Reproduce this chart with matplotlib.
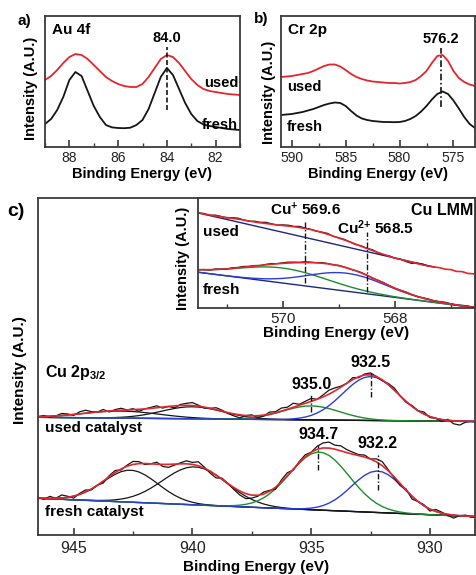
import numpy as np
import matplotlib
matplotlib.use('Agg')
import matplotlib.pyplot as plt
from matplotlib.ticker import MultipleLocator

plt.rcParams['font.family'] = ['Liberation Sans', 'DejaVu Sans']
plt.rcParams['mathtext.default'] = 'regular'

RED = '#e4262c'
BLACK = '#151515'
GREEN = '#1e8c2a'
BLUE = '#2a3ed6'
NAVY = '#1d2680'
SPINE = '#3a3a3a'

# ---------------- data ----------------
# a) Au 4f, binding energy 89 -> 81 eV, step 0.25
au_be = np.linspace(89.0, 81.0, 33)
au_fresh = [23, 28, 37, 50, 67, 75, 71, 56, 41, 30, 22, 19.6, 19, 18.8, 19.3, 22, 27,
            38, 54, 70, 79, 72, 58, 44, 33, 26, 22.5, 21, 20, 19, 18, 17.5, 17]
au_used = [67, 71, 77, 84, 90, 93, 92, 88, 82, 76, 70, 66, 63, 61, 60, 60, 63,
           70, 79, 88, 92, 90, 84, 76, 68, 62, 58, 56, 55, 54, 53, 52.5, 52]

# b) Cr 2p, binding energy 591 -> 573 eV, step 0.5
cr_be = np.linspace(591.0, 573.0, 37)
cr_used = [70, 70.5, 71, 72, 73, 74, 76, 78.5, 81, 82.5, 82.5, 80.5, 77, 73, 70, 68,
           66.5, 65.5, 65, 64.5, 64, 64, 63.5, 64, 65, 67, 71, 76, 84, 91, 92, 86, 76,
           69, 65, 62.5, 61]
cr_fresh = [32, 32.5, 33, 34, 35, 36.5, 38, 40, 42, 43.5, 44.5, 44, 41, 36, 31.5, 28.5,
            27, 26, 25.5, 25, 25, 24.8, 25, 26, 28, 31, 35.5, 41, 47.5, 53, 55.5, 53,
            46.5, 38.5, 30, 23, 19]

# c) Cu 2p3/2, binding energy 946.5 -> 928 eV, step 0.25
cu_be = np.linspace(946.5, 928.0, 75)
# fitted peaks: (centre eV, height, sigma eV)
used_base = (117.7, 113.5)
used_sat = [(943.0, 7, 1.6), (940.0, 12, 1.3)]
used_green = (935.0, 14, 1.2)
used_blue = (932.5, 44, 1.17)
fresh_base = (36.7, 18.3)
fresh_sat = [(942.6, 32, 1.15), (939.9, 38, 1.35)]
fresh_green = (934.65, 58, 1.25)
fresh_blue = (932.2, 41.5, 1.1)
# measured counts minus the fit envelope
used_resid = [0, 1, -1, 0, 2, 1, -1, 2, 3, 1, 0, 2, -1, 1, 2,
              0, 1, -2, 0, 1, 2, -1, 0, -2, 1, 2, 3, 1, -1, 0,
              2, 1, -1, -2, -3, 0, 1, -2, -1, 2, 1, 3, 2, 4, 1,
              2, 3, 0, 2, 4, 3, 1, 0, 2, -1, 1, 2, 0, -1, 1,
              2, 0, -1, 1, 0, 2, -1, 0, -2, 1, -3, -4, -1, 0, -1]
fresh_resid = [1, -1, 2, 0, 3, 1, -2, 1, 2, -1, 0, -2, 1, 2, -1,
               1, 3, 2, -1, 0, 2, -2, -3, -1, 1, 3, 2, 4, 1, -2,
               -3, 1, 0, -2, -4, -5, -3, -1, 2, 1, -2, 2, 3, -1, 1,
               2, 0, 3, 5, 6, 4, 5, 3, 2, 1, 2, 0, 3, 4, 1,
               -1, -2, 1, -3, 0, 1, -2, 2, 1, -1, -3, 0, 1, -1, 0]

# c) inset Cu LMM, 571.5 -> 566.6 eV, step 0.1
lmm_be = np.linspace(571.5, 566.6, 50)
lmm_used = [95.0, 94.0, 93.0, 92.1, 91.3, 90.5, 89.7, 88.9, 88.0, 87.0,
            86.0, 85.2, 84.5, 83.8, 83.1, 82.5, 81.9, 81.3, 80.5, 79.5,
            78.5, 77.1, 75.5, 73.8, 71.9, 70.0, 68.0, 66.0, 63.9, 61.7,
            59.5, 57.5, 55.5, 53.6, 51.8, 50.0, 48.6, 47.2, 45.8, 44.4,
            43.0, 42.0, 41.0, 40.3, 38.8, 38.4, 36.6, 36.4, 34.6, 34.2]
lmm_used_resid = [0, 0.5, -0.5, 0.8, 0.3, -0.4, 0.6, 1.0, 0.2, -0.3,
                  0.8, 0.5, 1.2, 0.4, -0.2, 0.6, 0.9, 0.3, 1.1, 0.5,
                  0.2, -0.3, 0.4, 0.8, -0.2, 0.3, 0.6, 0.1, -0.4, 0.5,
                  0.2, 0.8, -0.3, -0.6, 0.4, -0.2, 0.3, -0.8, -1.2, 0.5,
                  0.9, -0.3, 0.2]
lmm_fresh_base = (35.7, 0.6)
lmm_green = (570.0, 15, 0.8)
lmm_blue = (568.85, 18, 0.7)
lmm_fresh_resid = [0, 0.3, -0.4, 0.5, 0.2, -0.3, 0.6, 0.4, 0.8, 0.3,
                   0.5, -0.2, 0.4, 0.7, 0.2, 0.5, 0.9, 0.6, 0.3, 0.8,
                   0.4, 0.1, 0.6, 0.3, -0.2, 0.4, 0.1, -0.3, 0.2, 0.5,
                   0.3, -0.4, 0.2, 0.5, 0.1, -0.2, 0.3, 0.6, 0.2, -0.1,
                   0.3, 0.5, -0.2, 0.4, 0.7, 0.2, -0.3, 0.4, 0.6, 0.1]


def gauss(e, peak):
    c, h, s = peak
    return h * np.exp(-(e - c) ** 2 / (2 * s ** 2))


def style_axes(ax, major, minor, labelsize, xlabelsize, pad=3.0, labelpad=1.0):
    for sp in ax.spines.values():
        sp.set_color(SPINE)
        sp.set_linewidth(1.3)
    ax.set_yticks([])
    ax.xaxis.set_major_locator(MultipleLocator(major))
    ax.xaxis.set_minor_locator(MultipleLocator(minor))
    ax.tick_params(axis='x', which='major', direction='in', length=5, width=1.2,
                   labelsize=labelsize, pad=pad, colors=SPINE, labelcolor='#222222')
    ax.tick_params(axis='x', which='minor', direction='in', length=3, width=1.0,
                   colors=SPINE)
    ax.set_xlabel('Binding Energy (eV)', fontsize=xlabelsize, fontweight='bold',
                  labelpad=labelpad)


W, H = 476, 575
fig = plt.figure(figsize=(W / 100, H / 100), dpi=100)


def px_axes(left, top, right, bottom):
    return fig.add_axes([left / W, 1 - bottom / H, (right - left) / W, (bottom - top) / H])


# ---------------- a) ----------------
ax = px_axes(45, 16, 240, 147)
ax.plot(au_be, au_used, color=RED, lw=1.3)
ax.plot(au_be, au_fresh, color=BLACK, lw=1.3)
ax.set_xlim(89, 81)
ax.set_ylim(0, 131)
style_axes(ax, 2, 1, 10, 10.5)
ax.set_ylabel('Intensity (A.U.)', fontsize=10.5, fontweight='bold')
ax.yaxis.set_label_coords(-0.038, 0.45)
ax.plot([84.0, 84.0], [37, 100], color=BLACK, lw=1.2, ls=(0, (3, 1.5)))
ax.text(84.0, 0.834, '84.0', transform=ax.get_xaxis_transform(), ha='center',
        va='center', fontsize=10.5, fontweight='bold')
ax.text(0.036, 0.893, 'Au 4f', transform=ax.transAxes, ha='left', va='center',
        fontsize=11, fontweight='bold')
ax.text(0.99, 0.489, 'used', transform=ax.transAxes, ha='right', va='center',
        fontsize=10.5, fontweight='bold')
ax.text(0.99, 0.168, 'fresh', transform=ax.transAxes, ha='right', va='center',
        fontsize=10.5, fontweight='bold')
fig.text(24.5 / W, 1 - 21.5 / H, 'a)', ha='center', va='center', fontsize=11,
         fontweight='bold')

# ---------------- b) ----------------
ax = px_axes(281, 16, 475, 147)
ax.plot(cr_be, cr_used, color=RED, lw=1.3)
ax.plot(cr_be, cr_fresh, color=BLACK, lw=1.3)
ax.set_xlim(591, 573)
ax.set_ylim(0, 131)
style_axes(ax, 5, 2.5, 10, 10.5)
ax.set_ylabel('Intensity (A.U.)', fontsize=10.5, fontweight='bold')
ax.yaxis.set_label_coords(-0.026, 0.42)
ax.plot([576.2, 576.2], [40, 99], color=BLACK, lw=1.2, ls=(0, (4, 1.5, 1, 1.5)))
ax.text(576.2, 0.824, '576.2', transform=ax.get_xaxis_transform(), ha='center',
        va='center', fontsize=10.5, fontweight='bold')
ax.text(0.036, 0.893, 'Cr 2p', transform=ax.transAxes, ha='left', va='center',
        fontsize=11, fontweight='bold')
ax.text(0.031, 0.46, 'used', transform=ax.transAxes, ha='left', va='center',
        fontsize=10.5, fontweight='bold')
ax.text(0.031, 0.155, 'fresh', transform=ax.transAxes, ha='left', va='center',
        fontsize=10.5, fontweight='bold')
fig.text(261.5 / W, 1 - 19 / H, 'b)', ha='center', va='center', fontsize=11,
         fontweight='bold')

# ---------------- c) main ----------------
ax = px_axes(38, 198, 475, 535)
for base_ends, sats, green, blue, resid in [
        (used_base, used_sat, used_green, used_blue, used_resid),
        (fresh_base, fresh_sat, fresh_green, fresh_blue, fresh_resid)]:
    base = np.linspace(base_ends[0], base_ends[1], len(cu_be))
    env = base.copy()
    ax.plot(cu_be, base, color=NAVY, lw=1.0)
    for p in sats:
        ax.plot(cu_be, base + gauss(cu_be, p), color=BLACK, lw=0.9)
        env = env + gauss(cu_be, p)
    ax.plot(cu_be, base + gauss(cu_be, green), color=GREEN, lw=1.0)
    ax.plot(cu_be, base + gauss(cu_be, blue), color=BLUE, lw=1.0)
    env = env + gauss(cu_be, green) + gauss(cu_be, blue)
    ax.plot(cu_be, env + np.array(resid), color=BLACK, lw=0.9)
    ax.plot(cu_be, env, color=RED, lw=1.2)
ax.set_xlim(946.5, 928.1)
ax.set_ylim(0, 337)
style_axes(ax, 5, 2.5, 11.5, 11, pad=4, labelpad=3)
ax.set_ylabel('Intensity (A.U.)', fontsize=11, fontweight='bold')
ax.yaxis.set_label_coords(-0.025, 0.49)
for x, lo, hi, ty, lab in [(935.0, 123, 140, 150, '935.0'), (932.5, 138, 162, 172, '932.5'),
                           (934.7, 65, 90, 100, '934.7'), (932.2, 45, 80, 92, '932.2')]:
    ax.plot([x, x], [lo, hi], color=BLACK, lw=1.0, ls=(0, (4, 1.5, 1, 1.5)))
    ax.text(x, ty, lab, ha='center', va='center', fontsize=11.5, fontweight='bold')
ax.text(0.016, 0.481, 'Cu 2p$_{3/2}$', transform=ax.transAxes, ha='left', va='center',
        fontsize=11.5, fontweight='bold')
ax.text(0.016, 0.3175, 'used catalyst', transform=ax.transAxes, ha='left',
        va='center', fontsize=11, fontweight='bold')
ax.text(0.016, 0.068, 'fresh catalyst', transform=ax.transAxes, ha='left',
        va='center', fontsize=11, fontweight='bold')
fig.text(16 / W, 1 - 211.5 / H, 'c)', ha='center', va='center', fontsize=14,
         fontweight='bold')

# ---------------- c) inset ----------------
ax = px_axes(198, 198, 475, 308)
ax.set_facecolor('white')
n_used = len(lmm_used_resid)
used_line = np.array(lmm_used)
ax.plot([lmm_be[0], lmm_be[n_used - 1]], [used_line[0], used_line[n_used - 1]],
        color=NAVY, lw=1.0)
ax.plot(lmm_be[:n_used], used_line[:n_used] + np.array(lmm_used_resid), color=BLACK, lw=0.9)
ax.plot(lmm_be, used_line, color=RED, lw=1.2)
base = np.linspace(lmm_fresh_base[0], lmm_fresh_base[1], len(lmm_be))
ax.plot(lmm_be, base, color=NAVY, lw=1.0)
ax.plot(lmm_be, base + gauss(lmm_be, lmm_green), color=GREEN, lw=1.0)
ax.plot(lmm_be, base + gauss(lmm_be, lmm_blue), color=BLUE, lw=1.0)
env = base + gauss(lmm_be, lmm_green) + gauss(lmm_be, lmm_blue)
ax.plot(lmm_be, env + np.array(lmm_fresh_resid), color=BLACK, lw=0.9)
ax.plot(lmm_be, env, color=RED, lw=1.2)
ax.set_xlim(571.51, 566.57)
ax.set_ylim(0, 110)
style_axes(ax, 2, 1, 11, 11, pad=3, labelpad=0)
ax.set_ylabel('Intensity (A.U.)', fontsize=10.5, fontweight='bold')
ax.yaxis.set_label_coords(-0.029, 0.45)
ax.plot([569.6, 569.6], [25, 86], color=BLACK, lw=1.0, ls=(0, (4, 1.5, 1, 1.5)))
ax.plot([568.5, 568.5], [16, 76], color=BLACK, lw=1.0, ls=(0, (4, 1.5, 1, 1.5)))
ax.text(569.6, 0.89, 'Cu$^{+}$ 569.6', transform=ax.get_xaxis_transform(), ha='center',
        va='center', fontsize=11, fontweight='bold')
ax.text(568.35, 0.727, 'Cu$^{2{+}}$ 568.5', transform=ax.get_xaxis_transform(),
        ha='center', va='center', fontsize=11, fontweight='bold')
ax.text(0.993, 0.89, 'Cu LMM', transform=ax.transAxes, ha='right', va='center',
        fontsize=11.5, fontweight='bold')
ax.text(0.018, 0.694, 'used', transform=ax.transAxes, ha='left', va='center',
        fontsize=11, fontweight='bold')
ax.text(0.018, 0.164, 'fresh', transform=ax.transAxes, ha='left', va='center',
        fontsize=11, fontweight='bold')

fig.savefig('out.png', dpi=100)
